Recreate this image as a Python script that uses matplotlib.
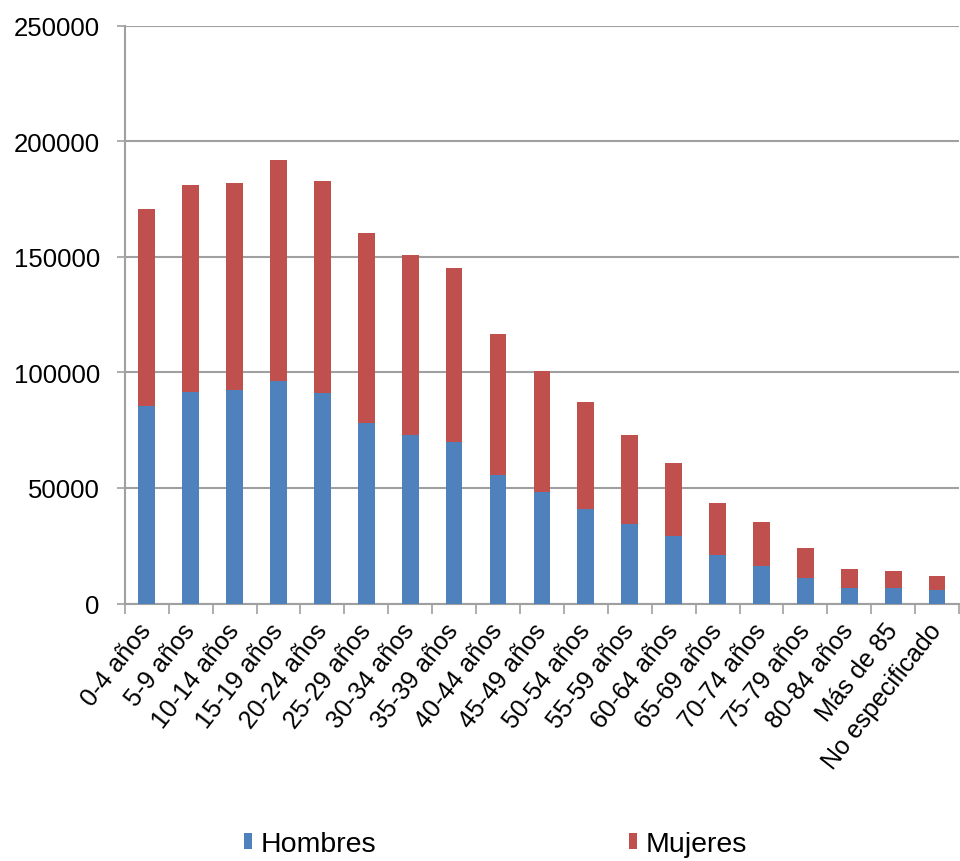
import matplotlib
matplotlib.use('Agg')
import matplotlib.pyplot as plt
import numpy as np

grupos = ['0-4 años', '5-9 años', '10-14 años', '15-19 años', '20-24 años',
          '25-29 años', '30-34 años', '35-39 años', '40-44 años', '45-49 años',
          '50-54 años', '55-59 años', '60-64 años', '65-69 años', '70-74 años',
          '75-79 años', '80-84 años', 'Más de 85', 'No especificado']

hombres = [85600, 91600, 92400, 96100, 90900, 78100, 72700, 69700, 55600, 48100,
           41100, 34300, 29100, 20900, 16300, 11100, 6500, 6500, 5800]
totales = [170700, 181300, 182100, 191800, 182700, 160200, 151000, 145300, 116700, 100600,
           87200, 72900, 60900, 43400, 35100, 23900, 14900, 14100, 12000]
mujeres = [t - h for t, h in zip(totales, hombres)]

plt.rcParams['font.family'] = ['Liberation Sans', 'DejaVu Sans']

azul = '#4F81BD'
rojo = '#C0504D'
gris = '#A0A0A0'

fig = plt.figure(figsize=(9.6, 8.62), dpi=100)
ax = fig.add_axes([0.130, 0.2987, 0.869, 0.6703])

x = np.arange(len(grupos))
ax.bar(x, hombres, width=0.38, color=azul, label='Hombres', zorder=3)
ax.bar(x, mujeres, width=0.38, bottom=hombres, color=rojo, label='Mujeres', zorder=3)

ax.set_xlim(-0.5, len(grupos) - 0.5)
ax.set_ylim(0, 250000)
ax.set_yticks(np.arange(0, 250001, 50000))
ax.yaxis.grid(True, color=gris, linewidth=1.5, zorder=0)

for s in ['top', 'right']:
    ax.spines[s].set_visible(False)
for s in ['left', 'bottom']:
    ax.spines[s].set_color(gris)
    ax.spines[s].set_linewidth(1.5)

ax.tick_params(axis='y', length=6, width=1.2, color=gris, pad=12, labelsize=18.5)
ax.set_xticks(x)
ax.set_xticklabels(grupos, rotation=52, ha='right', va='center', rotation_mode='anchor', fontsize=18)
ax.tick_params(axis='x', which='major', length=0, pad=16)
ax.set_xticks(np.arange(-0.5, len(grupos), 1), minor=True)
ax.tick_params(axis='x', which='minor', length=7, width=1.2, color=gris)

fig.legend(loc='center', bbox_to_anchor=(0.516, 0.02), ncol=2, frameon=False,
           fontsize=20.5, handlelength=0.28, handleheight=0.5, handletextpad=0.3,
           columnspacing=8.9)

fig.savefig('out.png', dpi=100)
